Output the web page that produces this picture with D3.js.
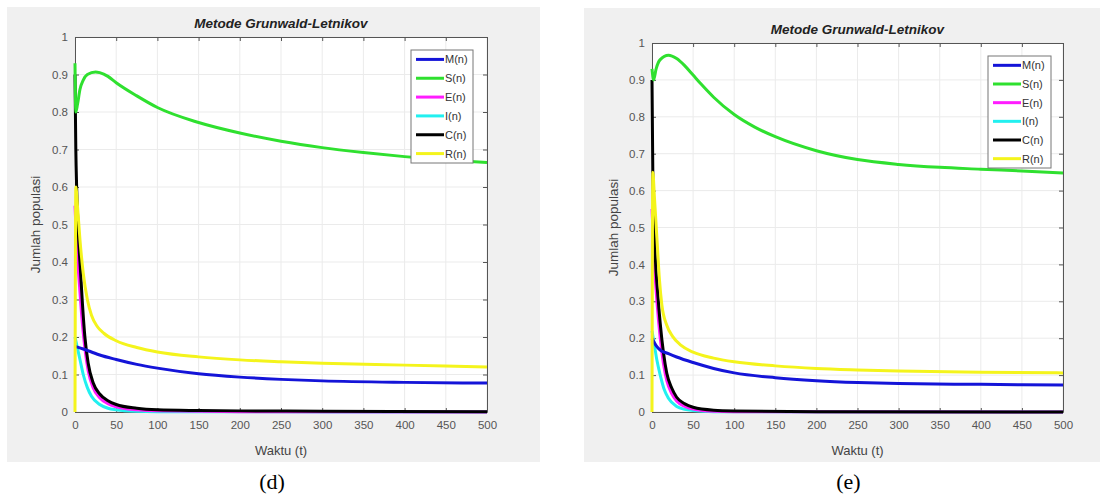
<!DOCTYPE html>
<html>
<head>
<meta charset="utf-8">
<script src="https://cdn.jsdelivr.net/npm/d3@7"></script>
<style>
  body { margin: 0; background: #fff; }
  svg { display: block; }
</style>
</head>
<body>
<svg id="chart" width="1102" height="495"></svg>
<script>
// legend order / names
const seriesNames = ['M(n)', 'S(n)', 'E(n)', 'I(n)', 'C(n)', 'R(n)'];
const seriesColors = ['#1414d8', '#2fe02f', '#ff1cff', '#22f0f0', '#000000', '#f4f41c'];
const xTicks = [0, 50, 100, 150, 200, 250, 300, 350, 400, 450, 500];
const yTicks = [0, 0.1, 0.2, 0.3, 0.4, 0.5, 0.6, 0.7, 0.8, 0.9, 1];

// panel (d) - [t, value]
const mD = [[0, 0.175], [10, 0.168], [20, 0.16], [30, 0.152], [50, 0.14], [75, 0.127], [100, 0.117], [150, 0.102], [200, 0.093], [250, 0.087], [300, 0.083], [400, 0.079], [500, 0.077]];
const sD = [[0, 0.93], [1, 0.8], [3, 0.82], [6, 0.86], [10, 0.885], [15, 0.9], [25, 0.907], [30, 0.905], [40, 0.895], [50, 0.878], [75, 0.843], [100, 0.812], [150, 0.772], [200, 0.744], [250, 0.722], [300, 0.705], [350, 0.692], [400, 0.681], [450, 0.672], [500, 0.665]];
const eD = [[0, 0.55], [2, 0.45], [5, 0.35], [8, 0.26], [12, 0.17], [16, 0.11], [22, 0.065], [30, 0.038], [40, 0.022], [50, 0.014], [75, 0.006], [100, 0.003], [200, 0.001], [500, 0]];
const iD = [[0, 0.2], [3, 0.17], [6, 0.14], [10, 0.1], [15, 0.065], [20, 0.042], [30, 0.02], [40, 0.01], [50, 0.006], [75, 0.002], [100, 0.001], [500, 0]];
const cD = [[0, 0.9], [1, 0.7], [2, 0.6], [4, 0.48], [6, 0.4], [9, 0.29], [12, 0.2], [16, 0.13], [22, 0.078], [30, 0.048], [40, 0.03], [50, 0.02], [75, 0.01], [100, 0.006], [150, 0.004], [200, 0.003], [300, 0.002], [500, 0.001]];
const rD = [[0, 0], [1, 0.6], [3, 0.55], [6, 0.46], [10, 0.37], [15, 0.3], [20, 0.258], [27, 0.228], [35, 0.21], [50, 0.19], [75, 0.172], [100, 0.16], [150, 0.147], [200, 0.139], [250, 0.134], [300, 0.13], [400, 0.125], [500, 0.12]];

// panel (e)
const mE = [[0, 0.2], [5, 0.18], [10, 0.168], [20, 0.158], [30, 0.149], [50, 0.134], [75, 0.118], [100, 0.106], [150, 0.093], [200, 0.085], [250, 0.08], [300, 0.077], [400, 0.075], [500, 0.073]];
const sE = [[0, 0.93], [2, 0.9], [5, 0.93], [10, 0.955], [20, 0.967], [30, 0.958], [40, 0.938], [50, 0.913], [60, 0.888], [75, 0.853], [100, 0.806], [125, 0.772], [150, 0.746], [200, 0.708], [250, 0.684], [300, 0.671], [350, 0.663], [400, 0.658], [450, 0.653], [500, 0.648]];
const eE = [[0, 0.55], [3, 0.4], [6, 0.3], [10, 0.2], [14, 0.13], [18, 0.085], [24, 0.05], [30, 0.03], [40, 0.015], [50, 0.008], [75, 0.002], [100, 0.001], [500, 0]];
const iE = [[0, 0.22], [3, 0.18], [6, 0.14], [10, 0.1], [15, 0.06], [20, 0.037], [30, 0.015], [40, 0.007], [50, 0.004], [75, 0.001], [500, 0]];
const cE = [[0, 0.9], [1, 0.65], [2, 0.55], [4, 0.42], [7, 0.32], [10, 0.24], [14, 0.16], [18, 0.105], [24, 0.065], [30, 0.04], [40, 0.022], [50, 0.013], [75, 0.005], [100, 0.003], [200, 0.001], [500, 0]];
const rE = [[0, 0], [1, 0.65], [3, 0.58], [6, 0.47], [9, 0.36], [12, 0.29], [18, 0.235], [25, 0.205], [35, 0.181], [50, 0.162], [75, 0.146], [100, 0.136], [150, 0.125], [200, 0.118], [250, 0.114], [300, 0.111], [400, 0.108], [500, 0.106]];

const panels = [
  { id: 'd', caption: '(d)', bg: [7, 7, 533, 455], plot: [75, 37, 487, 412], legend: [411, 50, 62, 113], yLabelX: 40,
    series: [mD, sD, eD, iD, cD, rD] },
  { id: 'e', caption: '(e)', bg: [584, 8, 516, 454], plot: [652, 43, 1063, 412], legend: [988, 56, 63, 112], yLabelX: 618,
    series: [mE, sE, eE, iE, cE, rE] },
];

const FONT = 'Liberation Sans, Arial, sans-serif';
const svg = d3.select('#chart');

panels.forEach(p => drawPanel(p));

function drawPanel(p) {
  let [bx, by, bw, bh] = p.bg;
  let [x0, y0, x1, y1] = p.plot;
  let g = svg.append('g');

  g.append('rect').attr('x', bx).attr('y', by).attr('width', bw).attr('height', bh).style('fill', '#f0f0f0');

  let x = d3.scaleLinear().domain([0, 500]).range([x0, x1]);
  let y = d3.scaleLinear().domain([0, 1]).range([y1, y0]);

  g.append('rect').attr('x', x0).attr('y', y0).attr('width', x1 - x0).attr('height', y1 - y0).style('fill', '#fff');

  // grid
  g.append('g').selectAll('line').data(xTicks).join('line')
    .attr('x1', d => x(d)).attr('x2', d => x(d)).attr('y1', y0).attr('y2', y1)
    .style('stroke', '#ebebeb').style('stroke-width', 1);
  g.append('g').selectAll('line').data(yTicks).join('line')
    .attr('x1', x0).attr('x2', x1).attr('y1', d => y(d)).attr('y2', d => y(d))
    .style('stroke', '#ebebeb').style('stroke-width', 1);

  // axes, ticks pointing inward (box style)
  let fmt = d => d3.format('~g')(d);
  let axisB = d3.axisBottom(x).tickValues(xTicks).tickSizeInner(-4).tickSizeOuter(0).tickPadding(9).tickFormat(fmt);
  let axisT = d3.axisTop(x).tickValues(xTicks).tickSizeInner(-4).tickSizeOuter(0).tickFormat('');
  let axisL = d3.axisLeft(y).tickValues(yTicks).tickSizeInner(-4).tickSizeOuter(0).tickPadding(7).tickFormat(fmt);
  let axisR = d3.axisRight(y).tickValues(yTicks).tickSizeInner(-4).tickSizeOuter(0).tickFormat('');

  let axes = [
    g.append('g').attr('transform', `translate(0,${y1})`).call(axisB),
    g.append('g').attr('transform', `translate(0,${y0})`).call(axisT),
    g.append('g').attr('transform', `translate(${x0},0)`).call(axisL),
    g.append('g').attr('transform', `translate(${x1},0)`).call(axisR),
  ];
  axes.forEach(a => {
    a.selectAll('path, line').style('stroke', '#555').style('stroke-width', 1);
    a.selectAll('text').style('font-family', FONT).style('font-size', '11.5px').style('fill', '#555');
  });

  // curves
  let clipId = 'clip-' + p.id;
  g.append('clipPath').attr('id', clipId).append('rect')
    .attr('x', x0 - 2).attr('y', y0).attr('width', x1 - x0 + 2).attr('height', y1 - y0 + 2);
  let line = d3.line().x(d => x(d[0])).y(d => y(d[1])).curve(d3.curveMonotoneX);
  let drawOrder = [3, 2, 4, 0, 5, 1];
  g.append('g').attr('clip-path', `url(#${clipId})`).selectAll('path').data(drawOrder).join('path')
    .attr('d', i => line(p.series[i]))
    .style('fill', 'none')
    .style('stroke', i => seriesColors[i])
    .style('stroke-width', 3)
    .style('stroke-linejoin', 'round');

  // title
  g.append('text').attr('x', (x0 + x1) / 2).attr('y', y0 - 9).attr('text-anchor', 'middle')
    .style('font-family', FONT).style('font-size', '13.5px')
    .style('font-weight', 'bold').style('font-style', 'italic').style('fill', '#222')
    .text('Metode Grunwald-Letnikov');

  // axis labels
  g.append('text').attr('x', (x0 + x1) / 2).attr('y', y1 + 43).attr('text-anchor', 'middle')
    .style('font-family', FONT).style('font-size', '13px').style('fill', '#444')
    .text('Waktu (t)');
  g.append('text').attr('transform', `translate(${p.yLabelX},${(y0 + y1) / 2}) rotate(-90)`).attr('text-anchor', 'middle')
    .style('font-family', FONT).style('font-size', '13.5px').style('fill', '#444')
    .text('Jumlah populasi');

  // legend
  let [lx, ly, lw, lh] = p.legend;
  let lg = g.append('g');
  lg.append('rect').attr('x', lx).attr('y', ly).attr('width', lw).attr('height', lh)
    .style('fill', '#fff').style('stroke', '#777').style('stroke-width', 1);
  let rowH = lh / seriesNames.length;
  seriesNames.forEach((name, i) => {
    let cy = ly + rowH * (i + 0.5);
    lg.append('line').attr('x1', lx + 5).attr('x2', lx + 33).attr('y1', cy).attr('y2', cy)
      .style('stroke', seriesColors[i]).style('stroke-width', 3);
    lg.append('text').attr('x', lx + 34).attr('y', cy + 4)
      .style('font-family', FONT).style('font-size', '11px').style('fill', '#333')
      .text(name);
  });

  // caption
  g.append('text').attr('x', (x0 + x1) / 2 - 9).attr('y', 489).attr('text-anchor', 'middle')
    .style('font-family', 'Liberation Serif, Times New Roman, serif').style('font-size', '22px').style('fill', '#000')
    .text(p.caption);
}
</script>
</body>
</html>
